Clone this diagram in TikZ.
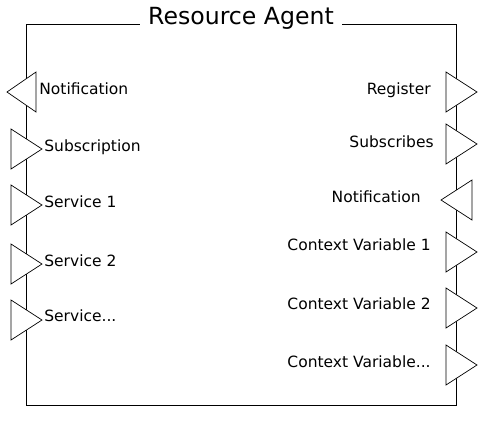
\documentclass[tikz,border=0pt]{standalone}
\usepackage{fontspec}
\setmainfont{DejaVu Sans}
\usepackage{tikz}
\usetikzlibrary{positioning}

\tikzset{
  port/.style={draw, fill=white, line width=0.7pt},
  lbl/.style={inner sep=0pt, font=\fontsize{15.5}{18}\selectfont},
}

\begin{document}
\begin{tikzpicture}[x=1pt,y=-1pt,line width=0.7pt]
\useasboundingbox (0,0) rectangle (482,421);
\draw (26,24) rectangle (456,405);
\node[fill=white, inner xsep=8pt, inner ysep=2pt, font=\fontsize{23.6}{26}\selectfont] (title) at (241,18) {Resource Agent};

% left side
\draw[port] (36,72) -- ++(-29,20) -- ++(29,20) -- cycle;
\draw[port] (11,129) -- ++(31,20) -- ++(-31,20) -- cycle;
\draw[port] (11,185) -- ++(31,20) -- ++(-31,20) -- cycle;
\draw[port] (11,244) -- ++(31,20) -- ++(-31,20) -- cycle;
\draw[port] (11,300) -- ++(31,20) -- ++(-31,20) -- cycle;
\node[lbl, anchor=base west] (notifL) at (39,94) {Notification};
\node[lbl, anchor=base west] (subscr) at (44,151) {Subscription};
\node[lbl, anchor=base west] (serv1) at (44,207) {Service 1};
\node[lbl, anchor=base west] (serv2) at (44,266) {Service 2};
\node[lbl, anchor=base west] (servN) at (44,321) {Service...};

% right side
\draw[port] (446,72) -- ++(31,20) -- ++(-31,20) -- cycle;
\draw[port] (446,124) -- ++(31,20) -- ++(-31,20) -- cycle;
\draw[port] (472,180) -- ++(-31,20) -- ++(31,20) -- cycle;
\draw[port] (446,232) -- ++(31,20) -- ++(-31,20) -- cycle;
\draw[port] (446,288) -- ++(31,20) -- ++(-31,20) -- cycle;
\draw[port] (446,345) -- ++(31,20) -- ++(-31,20) -- cycle;
\node[lbl, anchor=base east] (reg) at (431,94) {Register};
\node[lbl, anchor=base east] (subs) at (434,147) {Subscribes};
\node[lbl, anchor=base east] (notifR) at (421,202) {Notification};
\node[lbl, anchor=base east] (cvar1) at (431,250) {Context Variable 1};
\node[lbl, anchor=base east] (cvar2) at (431,309) {Context Variable 2};
\node[lbl, anchor=base east] (cvarN) at (431,367) {Context Variable...};
\end{tikzpicture}
\end{document}
